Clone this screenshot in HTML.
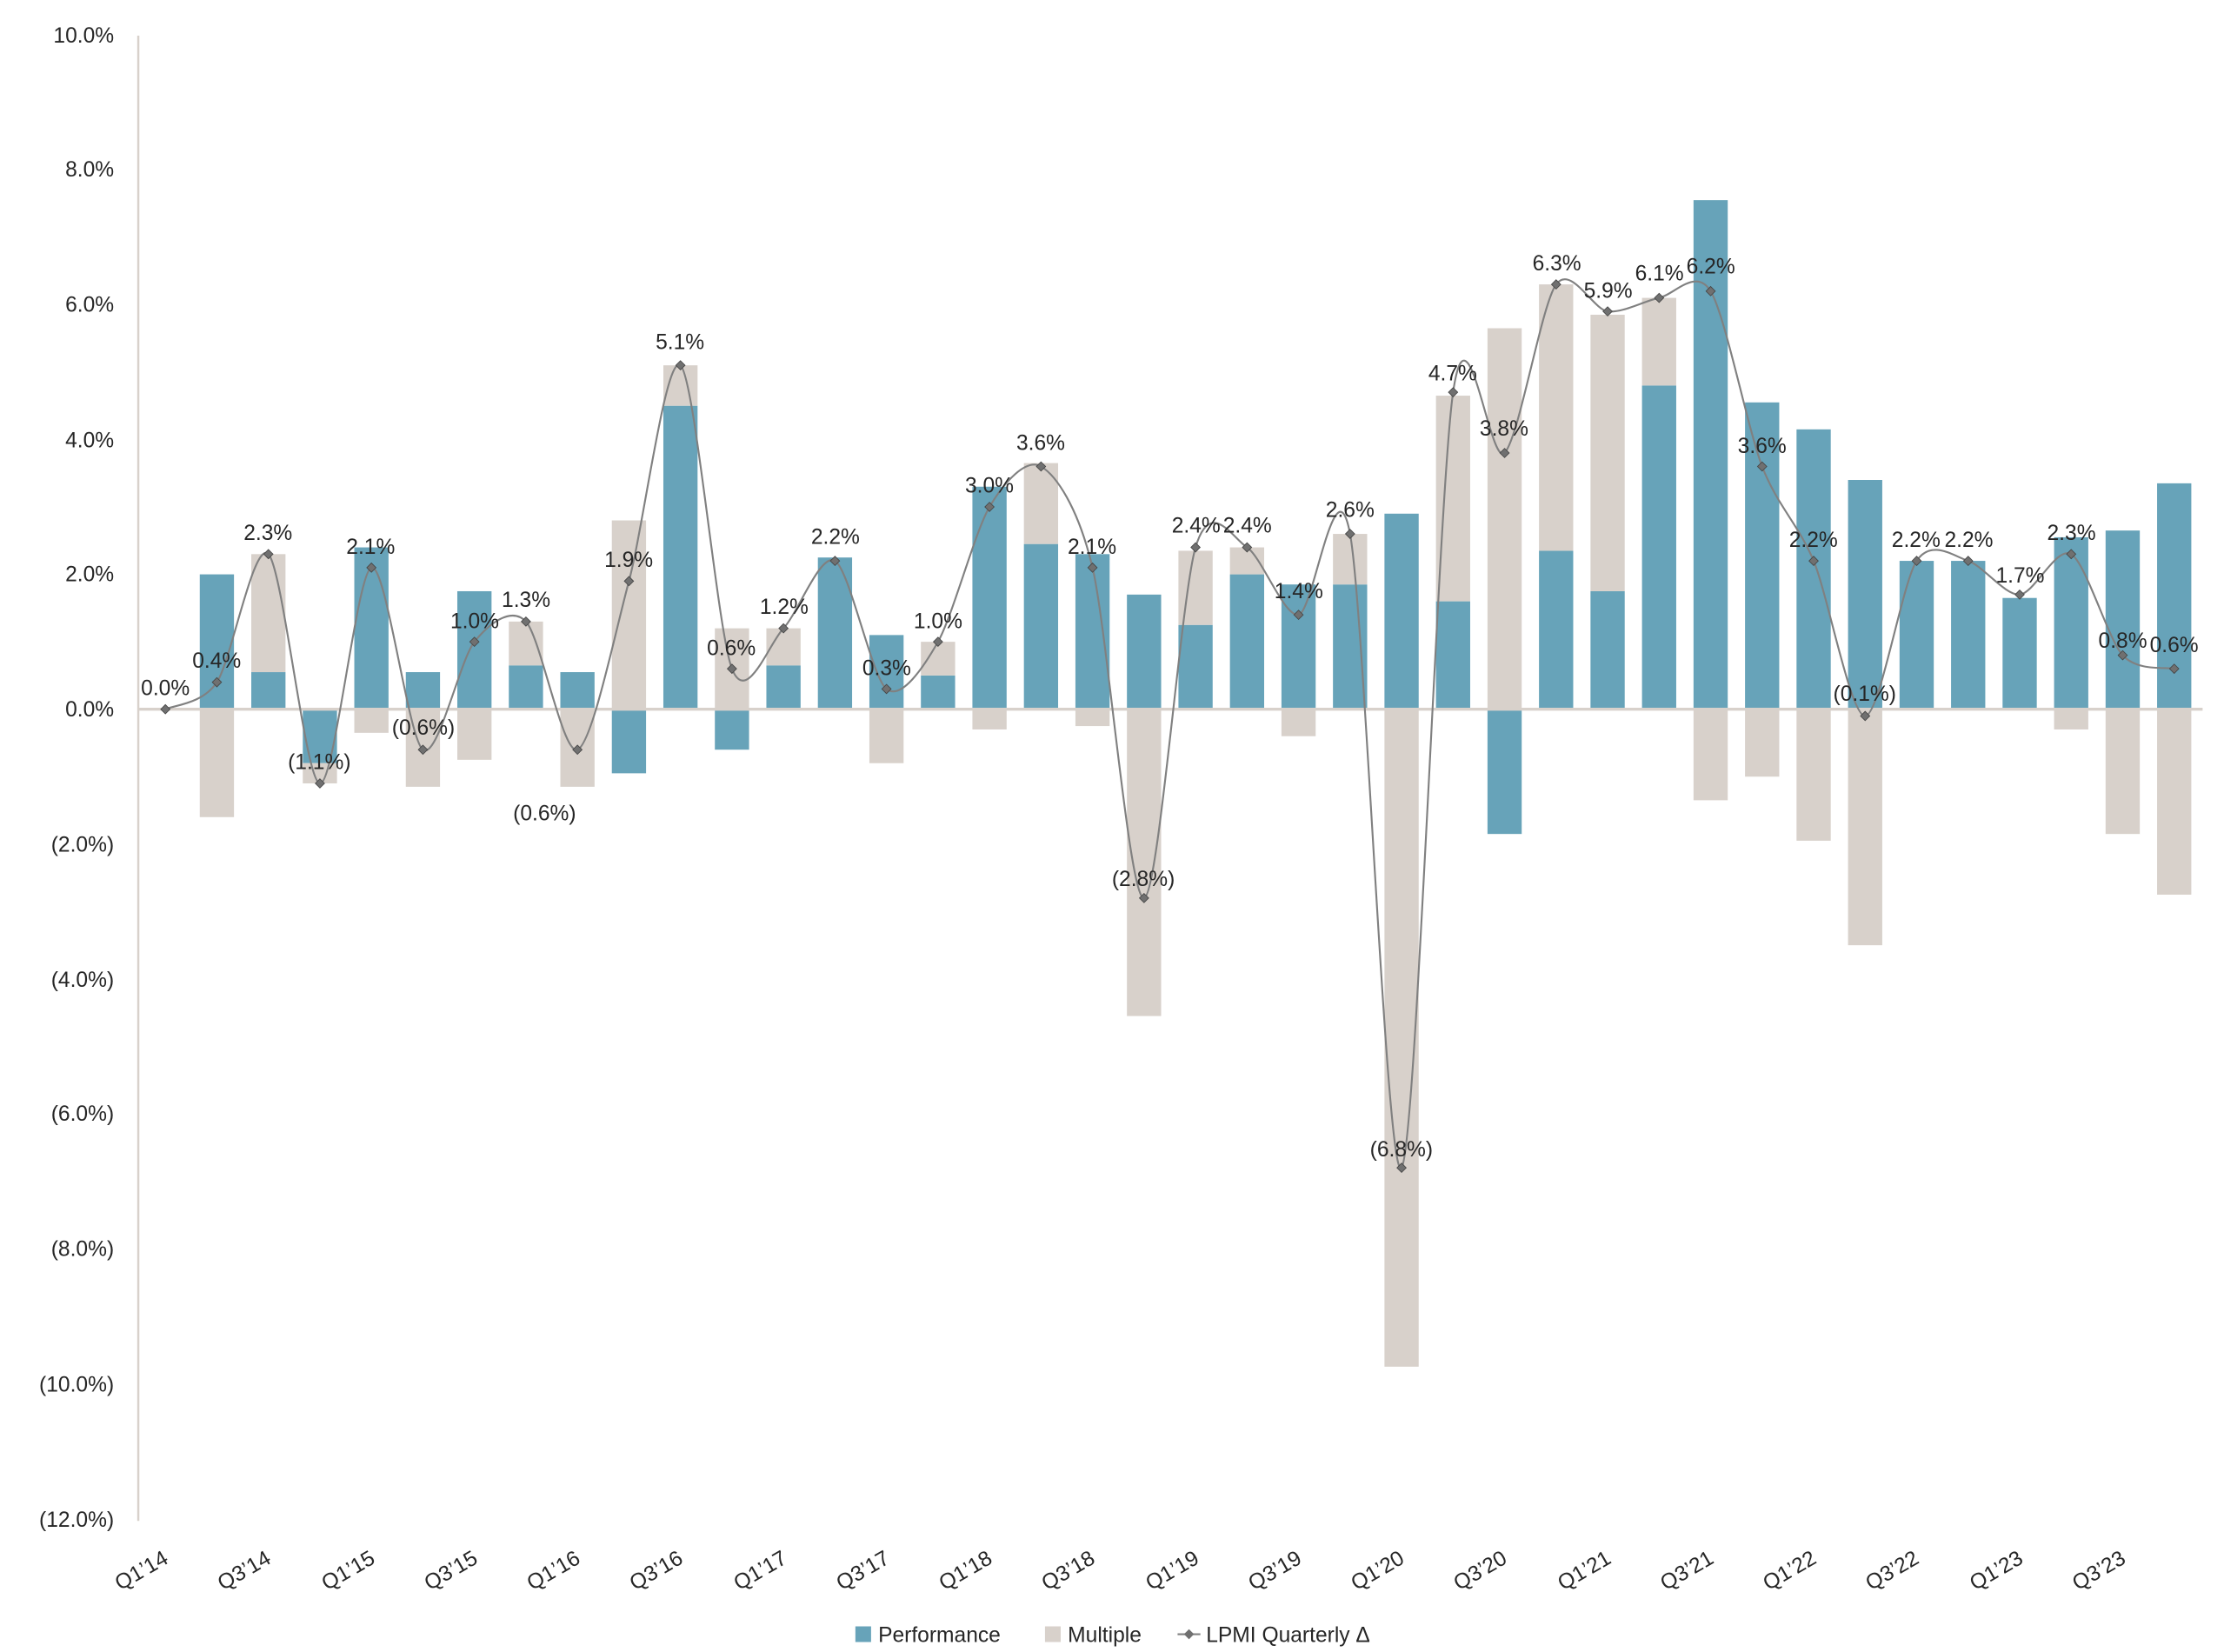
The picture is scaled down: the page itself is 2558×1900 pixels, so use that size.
<!DOCTYPE html>
<html><head><meta charset="utf-8"><style>
html,body{margin:0;padding:0;background:#fff;}
svg{display:block;}
text{font-family:"Liberation Sans",sans-serif;fill:#262626;}
</style></head><body>
<svg id="c" width="2558" height="1900" viewBox="0 0 1560 1160" preserveAspectRatio="none" xmlns="http://www.w3.org/2000/svg">
<g id="bars"></g>
<line x1="97" y1="25" x2="97" y2="1068" stroke="#d8d1cb" stroke-width="1.5"/>
<line x1="97" y1="498" x2="1545" y2="498" stroke="#d8d1cb" stroke-width="2"/>
<path id="ln" fill="none" stroke="#808080" stroke-width="1.3"/>
<g id="mk"></g>
<g font-size="15" text-anchor="end">
<text x="80" y="30">10.0%</text>
<text x="80" y="124">8.0%</text>
<text x="80" y="219">6.0%</text>
<text x="80" y="314">4.0%</text>
<text x="80" y="408">2.0%</text>
<text x="80" y="503">0.0%</text>
<text x="80" y="598">(2.0%)</text>
<text x="80" y="693">(4.0%)</text>
<text x="80" y="787">(6.0%)</text>
<text x="80" y="882">(8.0%)</text>
<text x="80" y="977">(10.0%)</text>
<text x="80" y="1072">(12.0%)</text>
</g>
<g font-size="15" text-anchor="middle">
<text x="116" y="488">0.0%</text>
<text x="152" y="469">0.4%</text>
<text x="188" y="379">2.3%</text>
<text x="224" y="540">(1.1%)</text>
<text x="260" y="389">2.1%</text>
<text x="297" y="516">(0.6%)</text>
<text x="333" y="441">1.0%</text>
<text x="369" y="426">1.3%</text>
<text x="382" y="576">(0.6%)</text>
<text x="441" y="398">1.9%</text>
<text x="477" y="245">5.1%</text>
<text x="513" y="460">0.6%</text>
<text x="550" y="431">1.2%</text>
<text x="586" y="382">2.2%</text>
<text x="622" y="474">0.3%</text>
<text x="658" y="441">1.0%</text>
<text x="694" y="346">3.0%</text>
<text x="730" y="316">3.6%</text>
<text x="766" y="389">2.1%</text>
<text x="802" y="622">(2.8%)</text>
<text x="839" y="374">2.4%</text>
<text x="875" y="374">2.4%</text>
<text x="911" y="420">1.4%</text>
<text x="947" y="363">2.6%</text>
<text x="983" y="812">(6.8%)</text>
<text x="1019" y="267">4.7%</text>
<text x="1055" y="306">3.8%</text>
<text x="1092" y="190">6.3%</text>
<text x="1128" y="209">5.9%</text>
<text x="1164" y="197">6.1%</text>
<text x="1200" y="192">6.2%</text>
<text x="1236" y="318">3.6%</text>
<text x="1272" y="384">2.2%</text>
<text x="1308" y="492">(0.1%)</text>
<text x="1344" y="384">2.2%</text>
<text x="1381" y="384">2.2%</text>
<text x="1417" y="409">1.7%</text>
<text x="1453" y="379">2.3%</text>
<text x="1489" y="455">0.8%</text>
<text x="1525" y="458">0.6%</text>
</g>
<g font-size="15" text-anchor="end">
<text transform="translate(119,1097) rotate(-30)">Q1’14</text>
<text transform="translate(191,1097) rotate(-30)">Q3’14</text>
<text transform="translate(264,1097) rotate(-30)">Q1’15</text>
<text transform="translate(336,1097) rotate(-30)">Q3’15</text>
<text transform="translate(408,1097) rotate(-30)">Q1’16</text>
<text transform="translate(480,1097) rotate(-30)">Q3’16</text>
<text transform="translate(553,1097) rotate(-30)">Q1’17</text>
<text transform="translate(625,1097) rotate(-30)">Q3’17</text>
<text transform="translate(697,1097) rotate(-30)">Q1’18</text>
<text transform="translate(769,1097) rotate(-30)">Q3’18</text>
<text transform="translate(842,1097) rotate(-30)">Q1’19</text>
<text transform="translate(914,1097) rotate(-30)">Q3’19</text>
<text transform="translate(986,1097) rotate(-30)">Q1’20</text>
<text transform="translate(1058,1097) rotate(-30)">Q3’20</text>
<text transform="translate(1131,1097) rotate(-30)">Q1’21</text>
<text transform="translate(1203,1097) rotate(-30)">Q3’21</text>
<text transform="translate(1275,1097) rotate(-30)">Q1’22</text>
<text transform="translate(1347,1097) rotate(-30)">Q3’22</text>
<text transform="translate(1420,1097) rotate(-30)">Q1’23</text>
<text transform="translate(1492,1097) rotate(-30)">Q3’23</text>
</g>
<rect x="600" y="1142" width="11" height="11" fill="#67a3b9"/>
<text x="616" y="1153" font-size="15">Performance</text>
<rect x="733" y="1142" width="11" height="11" fill="#d8d1cb"/>
<text x="749" y="1153" font-size="15">Multiple</text>
<line x1="826" y1="1147.5" x2="842" y2="1147.5" stroke="#808080" stroke-width="1.3"/>
<rect x="831.5" y="1145" width="5" height="5" fill="#707070" transform="rotate(45 834 1147.5)"/>
<text x="846" y="1153" font-size="15">LPMI Quarterly Δ</text>
</svg>
<script>
var P=[0,2.0,0.55,-0.8,2.4,0.55,1.75,0.65,0.55,-0.95,4.5,-0.6,0.65,2.25,1.1,0.5,3.3,2.45,2.3,1.7,1.25,2.0,1.85,1.85,2.9,1.6,-1.85,2.35,1.75,4.8,7.55,4.55,4.15,3.4,2.2,2.2,1.65,2.55,2.65,3.35];
var M=[0,-1.6,1.75,-0.3,-0.35,-1.15,-0.75,0.65,-1.15,2.8,0.6,1.2,0.55,0,-0.8,0.5,-0.3,1.2,-0.25,-4.55,1.1,0.4,-0.4,0.75,-9.75,3.05,5.65,3.95,4.1,1.3,-1.35,-1.0,-1.95,-3.5,0,0,0,-0.3,-1.85,-2.75];
var L=[0,0.4,2.3,-1.1,2.1,-0.6,1.0,1.3,-0.6,1.9,5.1,0.6,1.2,2.2,0.3,1.0,3.0,3.6,2.1,-2.8,2.4,2.4,1.4,2.6,-6.8,4.7,3.8,6.3,5.9,6.1,6.2,3.6,2.2,-0.1,2.2,2.2,1.7,2.3,0.8,0.6];
function X(i){return 116+36.13*i}function Y(v){return 498-47.35*v}
var ns="http://www.w3.org/2000/svg",b=document.getElementById('bars'),mk=document.getElementById('mk');
function R(x,y0,y1,f){if(Math.abs(y1-y0)<0.1)return;var r=document.createElementNS(ns,'rect');r.setAttribute('x',x-12);r.setAttribute('width',24);r.setAttribute('y',Math.min(y0,y1));r.setAttribute('height',Math.abs(y1-y0));r.setAttribute('fill',f);b.appendChild(r);}
for(var i=0;i<40;i++){var x=X(i),p=P[i],m=M[i],pos=0,neg=0;
 [[p,'#67a3b9'],[m,'#d8d1cb']].forEach(function(s){var v=s[0];if(v>=0){R(x,Y(pos),Y(pos+v),s[1]);pos+=v;}else{R(x,Y(neg),Y(neg+v),s[1]);neg+=v;}});}
var pts=L.map(function(v,i){return [X(i),Y(v)]});
var d='M'+pts[0][0]+','+pts[0][1],k=7;
for(var i=0;i<pts.length-1;i++){var p0=pts[Math.max(0,i-1)],p1=pts[i],p2=pts[i+1],p3=pts[Math.min(pts.length-1,i+2)];
 d+=' C'+(p1[0]+(p2[0]-p0[0])/k)+','+(p1[1]+(p2[1]-p0[1])/k)+' '+(p2[0]-(p3[0]-p1[0])/k)+','+(p2[1]-(p3[1]-p1[1])/k)+' '+p2[0]+','+p2[1];}
document.getElementById('ln').setAttribute('d',d);
pts.forEach(function(p){var r=document.createElementNS(ns,'rect');r.setAttribute('x',p[0]-2.3);r.setAttribute('y',p[1]-2.3);r.setAttribute('width',4.6);r.setAttribute('height',4.6);r.setAttribute('fill','#707070');r.setAttribute('stroke','#444');r.setAttribute('stroke-width','0.5');r.setAttribute('transform','rotate(45 '+p[0]+' '+p[1]+')');mk.appendChild(r);});
</script>
</body></html>
